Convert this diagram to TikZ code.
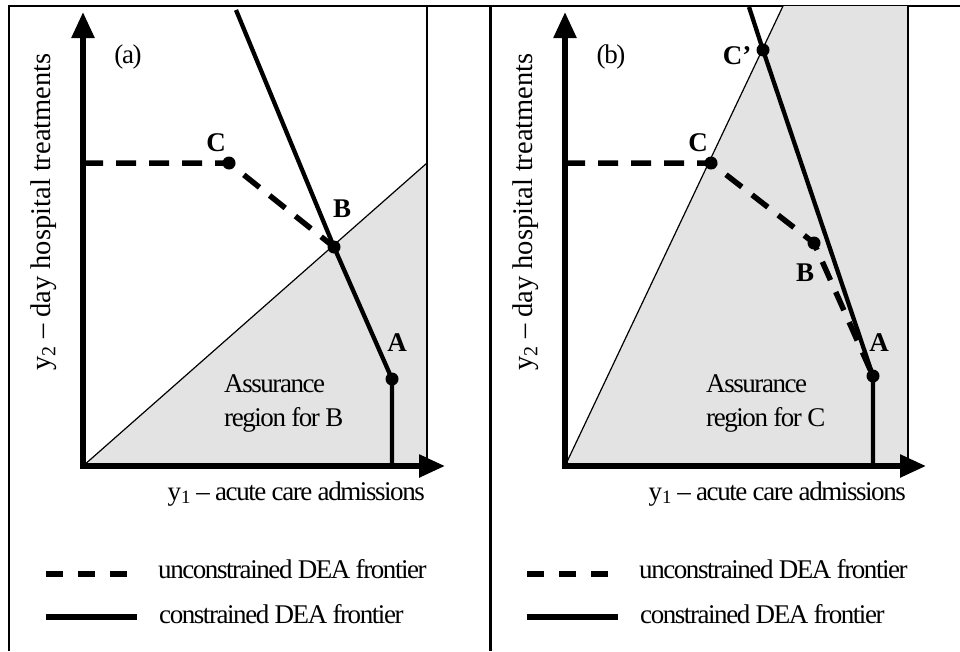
\documentclass[tikz,border=0pt]{standalone}
\usepackage{fontspec}
\setmainfont{Liberation Serif}
\newfontfamily\tightfont[LetterSpace=-5.3]{Liberation Serif}
\usetikzlibrary{arrows.meta}
\begin{document}
\begin{tikzpicture}[x=1pt,y=-1pt,
  lbl/.style={font=\fontsize{27}{30}\selectfont\bfseries, inner sep=0pt},
  txt/.style={font=\tightfont\fontsize{27}{34}\selectfont, inner sep=0pt},
  ytxt/.style={font=\fontsize{28.5}{32}\selectfont, inner sep=0pt, rotate=90},
  axis/.style={line width=5.5pt, line join=miter, {Triangle[length=26pt,width=22pt]}-{Triangle[length=26pt,width=22pt]}},
  uncon/.style={line width=5.5pt, dash pattern=on 20pt off 13pt},
  con/.style={line width=4.3pt},
  legsolid/.style={line width=6pt},
  legdash/.style={line width=6pt, dash pattern=on 17pt off 15pt},
  dot/.style={circle, fill=black, inner sep=0pt, minimum size=13pt},
  shaded/.style={fill=black!11},
  thin/.style={line width=1.2pt},
  frame/.style={line width=2.5pt}
]
\useasboundingbox (0,0) rectangle (960,651);

% ---------- frame ----------
\coordinate (TL) at (9,6);
\coordinate (TR) at (960,6);
\coordinate (BL) at (9,651);
\coordinate (TM) at (490,6);
\coordinate (BM) at (490,651);
\draw[frame] (BL) -- (TL) -- (TR);
\draw[line width=3pt] (TM) -- (BM);

% ================= panel (a) =================
\coordinate (Oa) at (83,466);
\coordinate (Ya) at (83,12);
\coordinate (Xa) at (445,466);
\coordinate (Ra) at (427,163);
\coordinate (RTa) at (427,6);
\coordinate (RBa) at (427,466);
\coordinate (Fa) at (236,10);
\coordinate (YCa) at (83,163);
\coordinate (Ca) at (229,163);
\coordinate (Ba) at (334,247);
\coordinate (Aa) at (392,379);
\coordinate (AXa) at (392,466);

\fill[shaded] (Oa) -- (Ra) -- (RBa) -- cycle;
\draw[thin] (Oa) -- (Ra);
\draw[thin] (RTa) -- (RBa);
\draw[axis] (Ya) -- (Oa) -- (Xa);
\draw[uncon] (YCa) -- (Ca) -- (Ba);
\draw[con] (Fa) -- (Ba) -- (Aa) -- (AXa);
\node[dot] (dCa) at (Ca) {};
\node[dot] (dBa) at (Ba) {};
\node[dot] (dAa) at (Aa) {};

\node[txt] (pa) at (128,57) {(a)};
\node[lbl] (lCa) at (216,143) {C};
\node[lbl] (lBa) at (342,209) {B};
\node[lbl] (lAa) at (397,343) {A};
\node[txt, anchor=base west] (ara1) at (224,392) {Assurance};
\node[txt, anchor=base west] (ara2) at (224,426) {region for B};
\node[txt, anchor=base east] (xla) at (425,500) {y\textsubscript{1} – acute care admissions};
\node[ytxt] (yla) at (44,212) {y\textsubscript{2} – day hospital treatments};

\coordinate (L1a) at (46,574);
\coordinate (L1b) at (128,574);
\coordinate (L2a) at (46,617);
\coordinate (L2b) at (137,617);
\draw[legdash] (L1a) -- (L1b);
\draw[legsolid] (L2a) -- (L2b);
\node[txt, anchor=base west] (ua) at (158,578) {unconstrained DEA frontier};
\node[txt, anchor=base west] (ca) at (159,623) {constrained DEA frontier};

% ================= panel (b) =================
\coordinate (Ob) at (565,466);
\coordinate (Yb) at (565,12);
\coordinate (Xb) at (926,466);
\coordinate (STb) at (783,6);
\coordinate (RTb) at (908,6);
\coordinate (RBb) at (908,466);
\coordinate (Fb) at (749,7);
\coordinate (YCb) at (565,163);
\coordinate (Cpb) at (763,50);
\coordinate (Cb) at (711,163);
\coordinate (Bb) at (814,243);
\coordinate (Ab) at (873,376);
\coordinate (AXb) at (873,466);

\fill[shaded] (Ob) -- (STb) -- (RTb) -- (RBb) -- cycle;
\draw[thin] (Ob) -- (STb);
\draw[thin] (RTb) -- (RBb);
\draw[axis] (Yb) -- (Ob) -- (Xb);
\draw[uncon] (YCb) -- (Cb) -- (Bb) -- (Ab);
\draw[con] (Fb) -- (Cpb) -- (Ab) -- (AXb);
\node[dot] (dCpb) at (Cpb) {};
\node[dot] (dCb) at (Cb) {};
\node[dot] (dBb) at (Bb) {};
\node[dot] (dAb) at (Ab) {};

\node[txt] (pb) at (611,57) {(b)};
\node[lbl] (lCpb) at (737,56) {C’};
\node[lbl] (lCb) at (698,143) {C};
\node[lbl] (lBb) at (805,273) {B};
\node[lbl] (lAb) at (879,343) {A};
\node[txt, anchor=base west] (arb1) at (706,392) {Assurance};
\node[txt, anchor=base west] (arb2) at (706,426) {region for C};
\node[txt, anchor=base east] (xlb) at (906,500) {y\textsubscript{1} – acute care admissions};
\node[ytxt] (ylb) at (526,212) {y\textsubscript{2} – day hospital treatments};

\coordinate (L3a) at (527,574);
\coordinate (L3b) at (610,574);
\coordinate (L4a) at (527,617);
\coordinate (L4b) at (618,617);
\draw[legdash] (L3a) -- (L3b);
\draw[legsolid] (L4a) -- (L4b);
\node[txt, anchor=base west] (ub) at (639,578) {unconstrained DEA frontier};
\node[txt, anchor=base west] (cb) at (640,623) {constrained DEA frontier};
\end{tikzpicture}
\end{document}
